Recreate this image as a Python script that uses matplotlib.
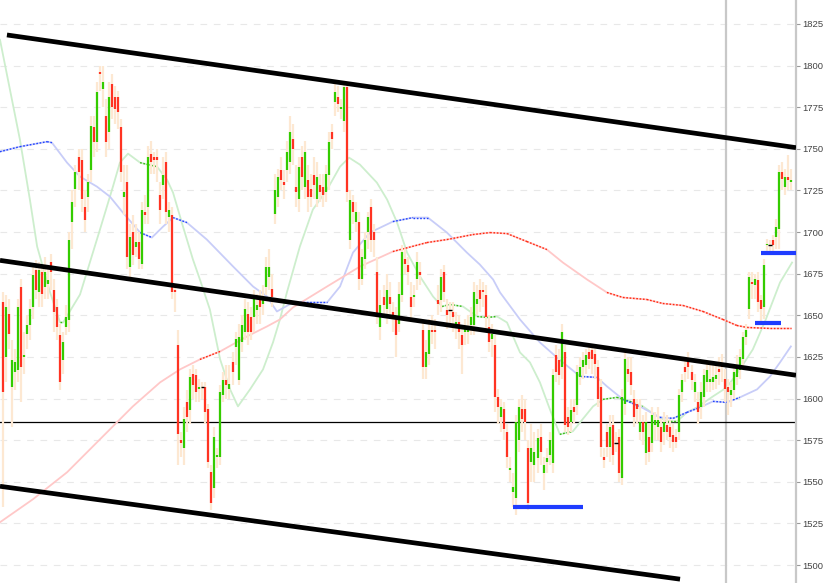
import numpy as np
import matplotlib
matplotlib.use("Agg")
import matplotlib.pyplot as plt

# daily bars (oldest first)
opens = [1658, 1625, 1651, 1607, 1616, 1617, 1667, 1625, 1639, 1644, 1655, 1677, 1664, 1676, 1667, 1669,
         1682, 1665, 1655, 1638, 1623, 1643, 1647, 1706, 1726, 1745, 1743, 1715, 1721, 1737, 1763, 1754,
         1796, 1786, 1770, 1760, 1789, 1781, 1781, 1763, 1721, 1730, 1679, 1700, 1691, 1694, 1681, 1712,
         1715, 1747, 1745, 1745, 1722, 1728, 1742, 1709, 1710, 1665, 1632, 1575, 1570, 1598, 1593, 1615,
         1614, 1606, 1607, 1607, 1594, 1556, 1546, 1565, 1565, 1602, 1611, 1606, 1622, 1631, 1611, 1634,
         1640, 1651, 1649, 1649, 1653, 1661, 1657, 1667, 1673, 1666, 1711, 1721, 1737, 1730, 1737, 1742,
         1756, 1727, 1720, 1745, 1727, 1731, 1726, 1734, 1720, 1728, 1727, 1724, 1734, 1760, 1778, 1781,
         1774, 1767, 1787, 1695, 1718, 1706, 1706, 1672, 1684, 1700, 1715, 1700, 1676, 1643, 1661, 1654,
         1661, 1652, 1649, 1645, 1662, 1684, 1680, 1661, 1661, 1672, 1676, 1641, 1619, 1627, 1641, 1641,
         1659, 1659, 1676, 1653, 1653, 1652, 1644, 1646, 1638, 1640, 1640, 1644, 1644, 1657, 1665, 1665,
         1662, 1643, 1636, 1632, 1601, 1589, 1594, 1580, 1557, 1544, 1540, 1575, 1594, 1594, 1570, 1562,
         1560, 1564, 1577, 1555, 1562, 1566, 1561, 1626, 1623, 1619, 1628, 1589, 1586, 1595, 1596, 1613,
         1619, 1620, 1628, 1629, 1627, 1619, 1607, 1565, 1580, 1571, 1584, 1573, 1577, 1552, 1597, 1618,
         1616, 1600, 1597, 1580, 1586, 1567, 1577, 1573, 1584, 1583, 1583, 1580, 1584, 1583, 1578, 1577,
         1580, 1604, 1619, 1622, 1616, 1604, 1598, 1595, 1601, 1610, 1610, 1610, 1612, 1618, 1621, 1612,
         1607, 1602, 1605, 1613, 1617, 1624, 1637, 1654, 1670, 1668, 1671, 1659, 1655, 1692, 1692, 1695,
         1697, 1702, 1736, 1727, 1733, 1730]
highs = [1664, 1662, 1660, 1635, 1630, 1660, 1672, 1640, 1650, 1660, 1680, 1683, 1682, 1680, 1685, 1678,
         1687, 1672, 1660, 1645, 1640, 1656, 1700, 1725, 1740, 1750, 1750, 1725, 1735, 1770, 1770, 1790,
         1800, 1800, 1780, 1790, 1795, 1788, 1785, 1768, 1740, 1740, 1705, 1710, 1705, 1700, 1718, 1722,
         1752, 1755, 1748, 1750, 1730, 1745, 1748, 1718, 1715, 1668, 1641, 1580, 1595, 1605, 1618, 1620,
         1618, 1612, 1610, 1610, 1597, 1560, 1583, 1570, 1608, 1616, 1620, 1620, 1628, 1640, 1645, 1650,
         1660, 1658, 1655, 1665, 1663, 1665, 1668, 1685, 1690, 1675, 1735, 1738, 1745, 1737, 1755, 1770,
         1765, 1740, 1745, 1752, 1755, 1740, 1735, 1745, 1742, 1735, 1735, 1740, 1760, 1765, 1790, 1788,
         1780, 1790, 1790, 1725, 1722, 1718, 1712, 1690, 1700, 1712, 1720, 1705, 1685, 1665, 1668, 1675,
         1670, 1658, 1655, 1670, 1692, 1690, 1685, 1670, 1668, 1688, 1682, 1648, 1635, 1648, 1650, 1648,
         1668, 1678, 1680, 1660, 1658, 1658, 1652, 1650, 1642, 1648, 1650, 1655, 1670, 1668, 1672, 1670,
         1668, 1650, 1645, 1638, 1606, 1600, 1598, 1585, 1565, 1555, 1590, 1600, 1602, 1600, 1575, 1585,
         1580, 1582, 1585, 1565, 1570, 1580, 1618, 1632, 1630, 1645, 1632, 1595, 1600, 1600, 1620, 1625,
         1628, 1630, 1632, 1632, 1630, 1623, 1612, 1570, 1585, 1590, 1590, 1580, 1582, 1606, 1628, 1625,
         1625, 1605, 1600, 1600, 1590, 1592, 1585, 1595, 1592, 1595, 1588, 1592, 1590, 1588, 1585, 1582,
         1606, 1615, 1625, 1628, 1620, 1615, 1604, 1610, 1618, 1622, 1620, 1620, 1622, 1625, 1627, 1618,
         1612, 1610, 1620, 1626, 1630, 1640, 1645, 1676, 1676, 1675, 1676, 1662, 1684, 1696, 1695, 1698,
         1708, 1740, 1742, 1738, 1746, 1738]
lows = [1535, 1610, 1630, 1583, 1605, 1610, 1598, 1615, 1630, 1635, 1648, 1660, 1655, 1655, 1660, 1660,
        1665, 1640, 1635, 1605, 1615, 1638, 1640, 1690, 1715, 1725, 1712, 1700, 1712, 1730, 1745, 1748,
        1785, 1775, 1745, 1750, 1768, 1765, 1762, 1730, 1710, 1678, 1673, 1680, 1685, 1678, 1678, 1705,
        1705, 1735, 1735, 1730, 1705, 1720, 1705, 1700, 1660, 1652, 1560, 1565, 1560, 1580, 1585, 1600,
        1598, 1598, 1600, 1585, 1558, 1533, 1540, 1558, 1560, 1598, 1600, 1600, 1608, 1620, 1608, 1628,
        1635, 1632, 1635, 1640, 1645, 1645, 1650, 1662, 1665, 1655, 1705, 1715, 1725, 1720, 1730, 1735,
        1740, 1715, 1712, 1725, 1720, 1712, 1715, 1720, 1715, 1718, 1715, 1718, 1725, 1750, 1770, 1772,
        1768, 1760, 1718, 1690, 1705, 1700, 1665, 1668, 1678, 1690, 1688, 1685, 1645, 1635, 1650, 1645,
        1650, 1640, 1625, 1640, 1658, 1675, 1668, 1648, 1655, 1665, 1668, 1612, 1612, 1620, 1633, 1630,
        1650, 1652, 1658, 1642, 1645, 1640, 1636, 1630, 1615, 1632, 1633, 1638, 1638, 1650, 1652, 1655,
        1642, 1628, 1625, 1592, 1585, 1580, 1575, 1558, 1550, 1535, 1530, 1568, 1580, 1575, 1533, 1550,
        1550, 1555, 1560, 1545, 1555, 1560, 1555, 1610, 1608, 1612, 1580, 1578, 1580, 1585, 1590, 1608,
        1612, 1615, 1618, 1615, 1612, 1595, 1565, 1558, 1565, 1562, 1560, 1568, 1550, 1548, 1590, 1610,
        1602, 1583, 1585, 1575, 1572, 1560, 1562, 1568, 1575, 1575, 1568, 1572, 1575, 1570, 1568, 1570,
        1575, 1598, 1610, 1612, 1605, 1598, 1585, 1588, 1595, 1604, 1604, 1605, 1606, 1608, 1610, 1598,
        1590, 1595, 1600, 1608, 1612, 1618, 1632, 1648, 1660, 1660, 1652, 1645, 1648, 1687, 1688, 1688,
        1690, 1690, 1725, 1722, 1725, 1725]
closes = [1604, 1655, 1639, 1623, 1622, 1655, 1619, 1626, 1644, 1654, 1674, 1665, 1677, 1663, 1676, 1671,
          1676, 1652, 1643, 1610, 1634, 1649, 1695, 1718, 1736, 1736, 1720, 1707, 1730, 1764, 1754, 1784,
          1795, 1790, 1754, 1781, 1775, 1774, 1772, 1736, 1724, 1685, 1697, 1686, 1694, 1684, 1713, 1710,
          1745, 1742, 1743, 1743, 1713, 1734, 1712, 1713, 1664, 1664, 1579, 1573, 1588, 1589, 1613, 1608,
          1604, 1607, 1607, 1592, 1562, 1537, 1577, 1566, 1604, 1611, 1608, 1609, 1616, 1636, 1637, 1644,
          1654, 1640, 1640, 1661, 1656, 1655, 1660, 1679, 1679, 1661, 1725, 1733, 1731, 1728, 1748, 1760,
          1750, 1724, 1739, 1733, 1748, 1721, 1721, 1728, 1733, 1724, 1722, 1735, 1754, 1756, 1784, 1777,
          1775, 1787, 1724, 1719, 1712, 1712, 1672, 1685, 1695, 1709, 1695, 1695, 1650, 1656, 1656, 1665,
          1657, 1649, 1638, 1663, 1688, 1681, 1676, 1655, 1662, 1682, 1674, 1619, 1628, 1641, 1640, 1640,
          1657, 1673, 1664, 1650, 1653, 1649, 1646, 1640, 1632, 1643, 1643, 1649, 1664, 1660, 1660, 1664,
          1649, 1634, 1639, 1601, 1595, 1595, 1582, 1565, 1558, 1547, 1586, 1595, 1588, 1586, 1537, 1570,
          1568, 1576, 1568, 1560, 1564, 1575, 1614, 1616, 1614, 1640, 1584, 1583, 1593, 1592, 1616, 1619,
          1623, 1626, 1624, 1624, 1621, 1600, 1571, 1563, 1571, 1583, 1566, 1573, 1555, 1601, 1624, 1615,
          1608, 1589, 1594, 1586, 1580, 1586, 1568, 1590, 1587, 1587, 1574, 1586, 1580, 1577, 1574, 1574,
          1602, 1611, 1616, 1619, 1611, 1610, 1592, 1604, 1614, 1617, 1612, 1613, 1614, 1616, 1619, 1606,
          1604, 1605, 1616, 1620, 1625, 1637, 1641, 1673, 1669, 1672, 1658, 1654, 1680, 1693, 1692, 1692,
          1703, 1736, 1732, 1733, 1731, 1731]

# moving averages, read as (bar index, value)
ma_short_x = [-1.0, 2.3, 5.6, 8.9, 11.3, 15.6, 18.9, 19.9, 25.5, 32.1, 36.4, 38.7, 41.4, 45.4, 48.0, 51.0,
              54.3, 56.3, 59.6, 62.9, 65.2, 68.5, 71.9, 75.2, 77.8, 81.8, 86.1, 89.4, 91.7, 94.0, 98.3,
              102.6, 107.3, 111.6, 114.6, 118.2, 123.8, 127.2, 130.5, 133.8, 138.1, 142.4, 145.4, 148.0,
              152.3, 157.0, 160.3, 163.6, 166.9, 168.9, 171.2, 174.5, 177.8, 181.1, 184.4, 188.7, 191.1,
              195.4, 198.7, 203.3, 207.6, 211.9, 216.6, 219.9, 223.2, 226.5, 229.8, 235.1, 239.7, 244.0,
              248.3, 252.6, 257.3, 261.3]
ma_short_y = [1815.5, 1785.5, 1755.5, 1719.5, 1691.3, 1663.7, 1645.7, 1645.7, 1662.5, 1701.5, 1727.3,
              1741.7, 1747.1, 1741.7, 1740.5, 1739.3, 1731.5, 1723.7, 1703.3, 1683.5, 1671.5, 1653.5,
              1623.5, 1605.5, 1595.3, 1605.5, 1617.5, 1633.7, 1647.5, 1663.7, 1691.3, 1713.5, 1725.5,
              1739.3, 1744.7, 1740.5, 1729.7, 1719.5, 1705.7, 1687.7, 1673.3, 1661.3, 1655.3, 1656.5,
              1655.3, 1649.3, 1648.7, 1649.3, 1645.7, 1637.3, 1627.7, 1621.7, 1609.7, 1593.5, 1578.5,
              1580.3, 1585.7, 1595.3, 1599.5, 1600.7, 1598.3, 1595.3, 1589.3, 1586.3, 1586.3, 1591.7,
              1594.7, 1601.3, 1606.7, 1617.5, 1629.5, 1647.5, 1669.7, 1681.7]
ma_mid_x = [-1.0, 5.6, 14.6, 16.2, 21.2, 25.5, 31.1, 35.4, 39.7, 45.4, 49.3, 53.0, 56.3, 60.9, 67.5, 76.2,
            82.8, 87.4, 90.7, 96.0, 107.3, 111.6, 115.9, 121.5, 129.1, 135.8, 140.7, 147.0, 153.6, 157.9,
            162.3, 164.6, 171.2, 177.8, 183.4, 191.1, 196.7, 200.0, 205.3, 210.9, 217.5, 221.9, 226.5,
            230.8, 235.1, 239.7, 244.0, 249.7, 254.0, 257.3, 260.9]
ma_mid_y = [1748.3, 1751.3, 1754.3, 1753.7, 1741.7, 1733.3, 1727.3, 1721.3, 1711.7, 1699.7, 1696.7, 1703.3,
            1708.7, 1705.7, 1695.5, 1679.3, 1667.3, 1661.3, 1652.3, 1657.7, 1657.7, 1667.3, 1687.7, 1699.7,
            1706.3, 1708.7, 1708.7, 1699.7, 1687.7, 1680.5, 1671.5, 1663.7, 1647.5, 1633.7, 1624.7, 1613.3,
            1612.7, 1607.3, 1599.5, 1595.3, 1588.7, 1588.1, 1591.7, 1594.7, 1598.3, 1597.7, 1600.7, 1605.5,
            1613.3, 1621.7, 1631.3]
ma_long_x = [-1.0, 9.9, 21.2, 32.1, 43.0, 52.0, 58.6, 65.2, 71.9, 80.8, 87.4, 91.7, 96.0, 107.3, 118.2,
             129.1, 140.4, 147.0, 155.6, 161.3, 166.9, 173.5, 180.1, 185.4, 193.4, 200.0, 205.3, 213.2,
             218.5, 225.2, 231.8, 238.4, 243.0, 246.4, 254.0, 260.9]
ma_long_y = [1525.7, 1539.5, 1555.7, 1575.5, 1595.3, 1609.7, 1617.5, 1623.5, 1628.3, 1637.3, 1643.3, 1647.5,
             1654.7, 1667.3, 1679.3, 1688.3, 1693.7, 1695.5, 1698.5, 1699.7, 1699.1, 1694.3, 1689.5, 1681.7,
             1671.5, 1663.7, 1660.7, 1659.5, 1657.1, 1655.9, 1652.3, 1647.5, 1643.9, 1642.7, 1642.1, 1642.1]

# hand drawn channel lines (start/end as bar index, value)
channel_x = [[1.3, 262.6], [-1.0, 262.6], [-1.0, 224.2]]
channel_y = [[1818.4, 1750.7], [1683.0, 1614.0], [1547.3, 1491.5]]
# support marks
support_x = [[168.9, 192.1], [249.0, 257.6], [251.0, 262.6]]
support_y = [1534.8, 1645.3, 1687.3]
level_line = 1586
divider_at = 239.4

yticks = np.arange(1500, 1826, 25)

fig = plt.figure(figsize=(8.26, 5.83), dpi=100)
ax = fig.add_axes([0, 0, 796 / 826, 1])
ax.set_xlim(-1, 262.6)
ax.set_ylim(1489.2, 1839.4)

for y in yticks:
    ax.axhline(y, color='#e8e8e8', lw=0.8, dashes=(6, 6), zorder=0)

ax.axvline(divider_at, color='#c8c8c8', lw=1.6, zorder=1)
ax.axhline(level_line, color='black', lw=0.9, zorder=2)


def draw_ma(xs, ys, light, dark):
    xs = np.asarray(xs)
    ys = np.asarray(ys)
    ax.plot(xs, ys, color=light, lw=1.3, zorder=3)
    # darker dotted where the line is flat (like the original renderer)
    for k in range(len(xs) - 1):
        slope = abs((ys[k + 1] - ys[k]) * 1.668 / ((xs[k + 1] - xs[k]) * 3.02))
        if slope < 0.45:
            ax.plot(xs[k:k + 2], ys[k:k + 2], color=dark, lw=1.0,
                    dashes=(1.2, 1.2), zorder=3.1)


draw_ma(ma_short_x, ma_short_y, '#cdeecd', '#33bb11')
draw_ma(ma_mid_x, ma_mid_y, '#c8cdf8', '#2244ff')
draw_ma(ma_long_x, ma_long_y, '#ffc8c8', '#ff2a10')

o = np.array(opens)
c = np.array(closes)
h = np.array(highs)
lo = np.array(lows)
idx = np.arange(len(o))

ax.vlines(idx, lo, h, color='#fde8d2', lw=1.6, zorder=4)
up = c > o
dn = c < o
flat = c == o
bot = np.minimum(o, c)
top = np.maximum(np.maximum(o, c), bot + 1.0)
ax.vlines(idx[up], bot[up], top[up], color='#33cc00', lw=1.6, zorder=5)
ax.vlines(idx[dn], bot[dn], top[dn], color='#ff3322', lw=1.6, zorder=5)
ax.hlines(c[flat], idx[flat] - 0.6, idx[flat] + 0.6, color='black', lw=1.0, zorder=5)

for xs, ys in zip(channel_x, channel_y):
    ax.plot(xs, ys, color='black', lw=3.4, solid_capstyle='butt', zorder=6)
for xs, y in zip(support_x, support_y):
    ax.plot(xs, [y, y], color='#1f3cff', lw=3.0, solid_capstyle='butt', zorder=6)

for s in ['left', 'top', 'bottom']:
    ax.spines[s].set_visible(False)
ax.spines['right'].set_color('#c8c8c8')
ax.spines['right'].set_linewidth(1.6)
ax.set_xticks([])
ax.yaxis.tick_right()
ax.set_yticks(yticks)
ax.set_yticklabels([str(v) for v in yticks], fontfamily='Liberation Sans')
ax.tick_params(axis='y', direction='out', length=3, width=0.8, color='#999999',
               labelsize=6.8, labelcolor='#444444', pad=1.5)

fig.savefig('out.png', dpi=100)
